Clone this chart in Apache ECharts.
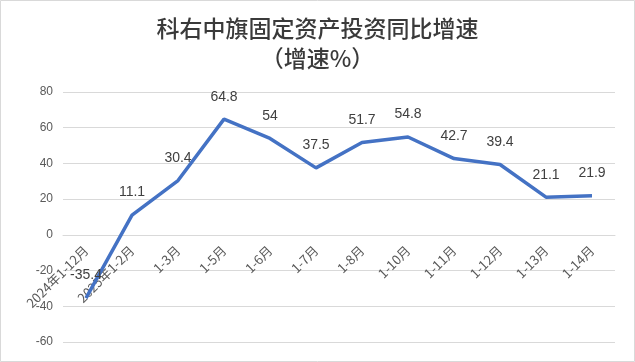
<!DOCTYPE html>
<html><head><meta charset="utf-8">
<script src="https://cdn.jsdelivr.net/npm/echarts@6/dist/echarts.min.js"></script>
<style>html,body{margin:0;padding:0;background:#fff}#c{width:635px;height:362px}</style>
</head><body><div id="c"></div>
<script>
const categories = ["2024年1-12月","2025年1-2月","1-3月","1-5月","1-6月","1-7月","1-8月","1-10月","1-11月","1-12月","1-13月","1-14月"];
const growth = [-35.4, 11.1, 30.4, 64.8, 54, 37.5, 51.7, 54.8, 42.7, 39.4, 21.1, 21.9];
const titleText = "科右中旗固定资产投资同比增速\n（增速%）";

const chart = echarts.init(document.getElementById('c'));
chart.setOption({
  backgroundColor: '#fff',
  animation: false,
  title: {
    text: titleText,
    left: 'center', top: 8,
    textStyle: {fontFamily: 'Noto Sans CJK SC', fontSize: 23, fontWeight: 500, color: '#3a3a3a', lineHeight: 30}
  },
  graphic: [{type:'rect', shape:{x:0.5,y:0.5,width:634,height:361}, style:{fill:'none', stroke:'#d9d9d9', lineWidth:1}}],
  grid: {left: 63, right: 20, top: 92, bottom: 20, containLabel: false, outerBoundsMode: 'none'},
  xAxis: {
    type: 'category', data: categories, boundaryGap: true, offset: -107,
    axisLine: {show: true, onZero: false, lineStyle: {color: '#d9d9d9', width: 1}}, axisTick: {show: false},
    axisLabel: {rotate: 45, margin: 13, interval: 0, fontSize: 13, color: '#595959', fontFamily: 'Noto Sans CJK SC'}
  },
  yAxis: {
    type: 'value', min: -60, max: 80, interval: 20,
    axisLine: {show: false}, axisTick: {show: false},
    axisLabel: {fontSize: 12, color: '#595959', margin: 10, fontFamily: 'Liberation Sans'},
    splitLine: {lineStyle: {color: '#d9d9d9', width: 1}}
  },
  series: [{
    type: 'line', data: growth, showSymbol: true, symbol: 'circle', symbolSize: 1,
    itemStyle: {color: 'rgba(68,114,196,0)'},
    lineStyle: {color: '#4472C4', width: 3.5},
    label: {show: true, position: 'top', distance: 15, fontSize: 14, color: '#404040', fontFamily: 'Liberation Sans'}
  }]
});
</script></body></html>
